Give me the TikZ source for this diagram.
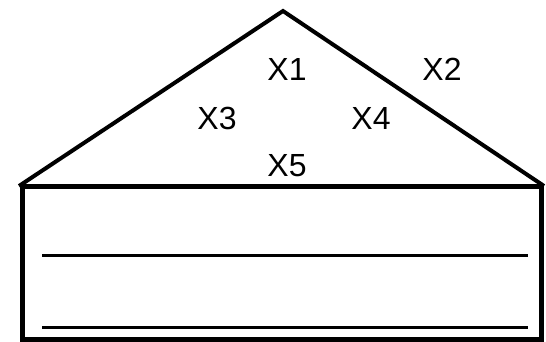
\documentclass[tikz,border=0pt]{standalone}
\usepackage{fontspec}
\setmainfont{Liberation Sans}
\begin{document}
\begin{tikzpicture}[x=1pt,y=-1pt,
  roof/.style={line width=4pt,line join=miter},
  wall/.style={line width=5pt},
  rule/.style={line width=3pt},
  lbl/.style={inner sep=0pt,font=\fontsize{32}{34}\selectfont}]
\useasboundingbox (0,0) rectangle (546,342);
\coordinate (L) at (19,186);
\coordinate (A) at (283,11);
\coordinate (R) at (544,186);
\draw[roof] (L) -- (A) -- (R);
\node[wall,draw,minimum width=519pt,minimum height=153pt,inner sep=0pt] (box) at (281.5,263) {};
\coordinate (r1a) at (42,255);
\coordinate (r1b) at (528,255);
\coordinate (r2a) at (42,327);
\coordinate (r2b) at (528,327);
\draw[rule] (r1a) -- (r1b);
\draw[rule] (r2a) -- (r2b);
\node[lbl] (x1) at (287,69) {X1};
\node[lbl] (x2) at (442,69) {X2};
\node[lbl] (x3) at (217,118) {X3};
\node[lbl] (x4) at (371,118) {X4};
\node[lbl] (x5) at (287,166) {X5};
\end{tikzpicture}
\end{document}
